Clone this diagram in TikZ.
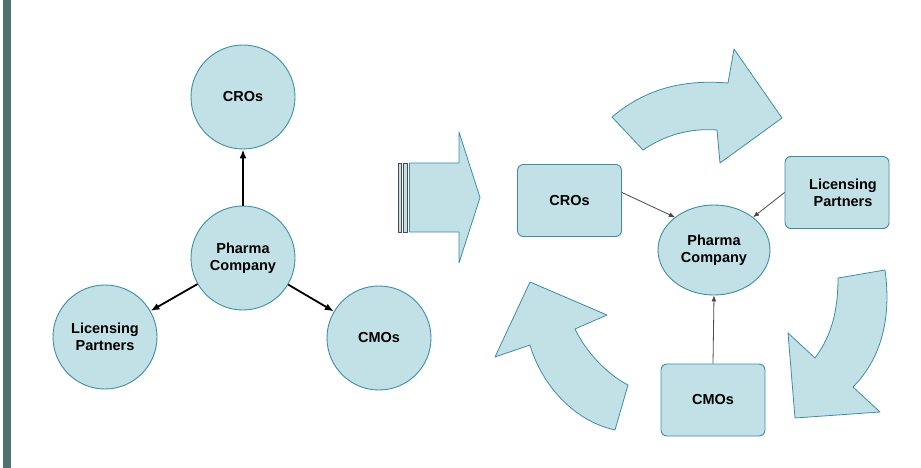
\documentclass[tikz,border=0pt]{standalone}
\usepackage{fontspec}
\setmainfont{Liberation Sans}
\usetikzlibrary{arrows.meta,shapes.geometric}

\definecolor{paleblue}{HTML}{C2E1E7}
\definecolor{tealline}{HTML}{3E8DA3}
\definecolor{barteal}{HTML}{4E726D}
\definecolor{thingray}{HTML}{4A4A4A}

\tikzset{
  lbl/.style={align=center,font=\bfseries\fontsize{14.5}{17}\selectfont},
  ball/.style={lbl,circle,draw=tealline,fill=paleblue,line width=0.9pt,minimum size=104pt,inner sep=0pt},
  card/.style={lbl,rectangle,rounded corners=6pt,draw=tealline,fill=paleblue,line width=0.9pt,minimum width=104pt,minimum height=72pt,inner sep=0pt},
  hub/.style={lbl,ellipse,draw=tealline,fill=paleblue,line width=0.9pt,minimum width=112pt,minimum height=90pt,inner sep=0pt},
  bigarrow/.style={draw=tealline,fill=paleblue,line width=0.8pt,line join=round},
  link/.style={-{Latex[length=9pt,width=7pt]},line width=1.8pt,black},
  feed/.style={-{Latex[length=6pt,width=5pt]},line width=0.8pt,thingray}
}

\begin{document}
\begin{tikzpicture}[x=1pt,y=-1pt]
\useasboundingbox (0,0) rectangle (921,468);
\fill[barteal] (3,0) rectangle (11,468);

% left: hub and spokes
\node[ball] (cro) at (243,97){CROs};
\node[ball] (pharma) at (243,258){Pharma\\Company};
\node[ball] (lic) at (105,337){Licensing\\Partners};
\node[ball] (cmo) at (379,338){CMOs};
\foreach \from/\to in {pharma/cro,pharma/lic,pharma/cmo}
	\draw[link] (\from)--(\to);

% striped arrow
\draw[bigarrow,draw=thingray] (398,163) rectangle (401.5,232);
\draw[bigarrow,draw=thingray] (403.5,163) rectangle (407.5,232);
\draw[bigarrow] (409.5,163) -- (459,163) -- (459,132) -- (480,197.5) -- (459,263) -- (459,232) -- (409.5,232) -- cycle;

% right: cycle
\draw[bigarrow] (612,117) .. controls (650,85) and (690,80) .. (728,83) -- (734,49) -- (782,118) -- (720,163) -- (717,130) .. controls (690,128) and (665,135) .. (643,150) -- cycle;
\draw[bigarrow] (838,278) -- (885,270) .. controls (892,320) and (880,360) .. (853,387) -- (880,412) -- (795,418) -- (788,333) -- (815,358) .. controls (832,335) and (838,310) .. (838,278) -- cycle;
\draw[bigarrow] (615,430) -- (628,385) .. controls (605,373) and (585,350) .. (575,329) -- (607,315) -- (530,282) -- (495,357) -- (530,345) .. controls (540,380) and (570,420) .. (615,430) -- cycle;

\node[card] (rcro) at (569.5,200.5){CROs};
\node[hub] (hub) at (714,250){Pharma\\Company};
\node[card] (rlic) at (837,192.5){\hspace*{12pt}Licensing\\\hspace*{12pt}Partners};
\node[card] (rcmo) at (713,400){CMOs};
\draw[feed] ([yshift=8pt]rcro.east)--(hub.140);
\draw[feed] (rlic.west)--(hub.40);
\draw[feed] (rcmo.north)--(hub.south);
\end{tikzpicture}
\end{document}
